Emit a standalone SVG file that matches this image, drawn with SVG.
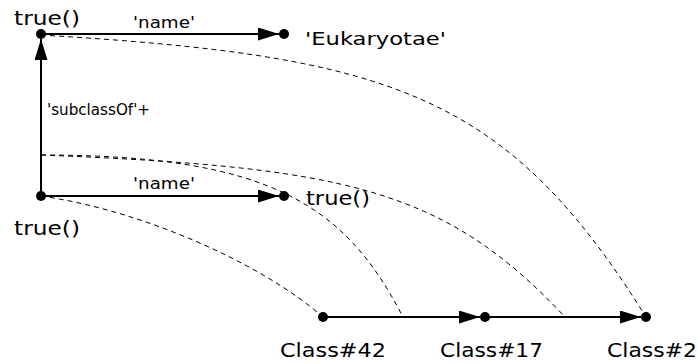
<svg xmlns="http://www.w3.org/2000/svg" width="698" height="364" viewBox="0 0 698 364">
<style>
.t{font-family:"DejaVu Sans","Liberation Sans",sans-serif;fill:#000}
.big{font-size:20px}
.mid{font-size:18px}
.sm{font-size:15px}
.edge{stroke:#000;stroke-width:2;fill:none}
.dash{stroke:#000;stroke-width:1;fill:none;stroke-dasharray:5 4}
.dot{fill:#000}
</style>
<defs>
<marker id="arr" markerUnits="userSpaceOnUse" markerWidth="22" markerHeight="13" refX="21" refY="6.5" orient="auto">
<path d="M0,0 L21,6.5 L0,13 z" fill="#000"/>
</marker>
</defs>
<rect width="698" height="364" fill="#fff"/>
<g id="connectors">
<path class="dash" d="M41,35 C391,56 506,93 646,317"/>
<path class="dash" d="M41,155 C344,167 444,188 565,317"/>
<path class="dash" d="M41,155 C270,155 345,205 403,317"/>
<path class="dash" d="M41,196 C140,210 260,262 323,317"/>
<line class="edge" x1="41" y1="34" x2="279" y2="34" marker-end="url(#arr)"/>
<line class="edge" x1="41" y1="196" x2="279" y2="196" marker-end="url(#arr)"/>
<line class="edge" x1="41" y1="196" x2="41" y2="39" marker-end="url(#arr)"/>
<line class="edge" x1="323" y1="317" x2="480" y2="317" marker-end="url(#arr)"/>
<line class="edge" x1="485" y1="317" x2="641" y2="317" marker-end="url(#arr)"/>
<text class="t sm" x="133" y="28" textLength="62" lengthAdjust="spacingAndGlyphs">'name'</text>
<text class="t sm" x="133" y="189" textLength="62" lengthAdjust="spacingAndGlyphs">'name'</text>
<text class="t sm" x="47" y="115" textLength="103" lengthAdjust="spacingAndGlyphs">'subclassOf'+</text>
</g>
<g id="node-true-top">
<circle class="dot" cx="41" cy="34" r="5"/>
<text class="t big" x="14" y="25" textLength="66" lengthAdjust="spacingAndGlyphs">true()</text>
</g>
<g id="node-eukaryotae">
<circle class="dot" cx="284" cy="34" r="5"/>
<text class="t mid" x="305" y="45" textLength="141" lengthAdjust="spacingAndGlyphs">'Eukaryotae'</text>
</g>
<g id="node-true-left">
<circle class="dot" cx="41" cy="196" r="5"/>
<text class="t big" x="14" y="235" textLength="66" lengthAdjust="spacingAndGlyphs">true()</text>
</g>
<g id="node-true-right">
<circle class="dot" cx="284" cy="196" r="5"/>
<text class="t big" x="306" y="205" textLength="64" lengthAdjust="spacingAndGlyphs">true()</text>
</g>
<g id="node-class42">
<circle class="dot" cx="323" cy="317" r="5"/>
<text class="t big" x="280" y="357" textLength="106" lengthAdjust="spacingAndGlyphs">Class#42</text>
</g>
<g id="node-class17">
<circle class="dot" cx="485" cy="317" r="5"/>
<text class="t big" x="440" y="357" textLength="103" lengthAdjust="spacingAndGlyphs">Class#17</text>
</g>
<g id="node-class2">
<circle class="dot" cx="646" cy="317" r="5"/>
<text class="t big" x="607" y="357" textLength="90" lengthAdjust="spacingAndGlyphs">Class#2</text>
</g>
</svg>
